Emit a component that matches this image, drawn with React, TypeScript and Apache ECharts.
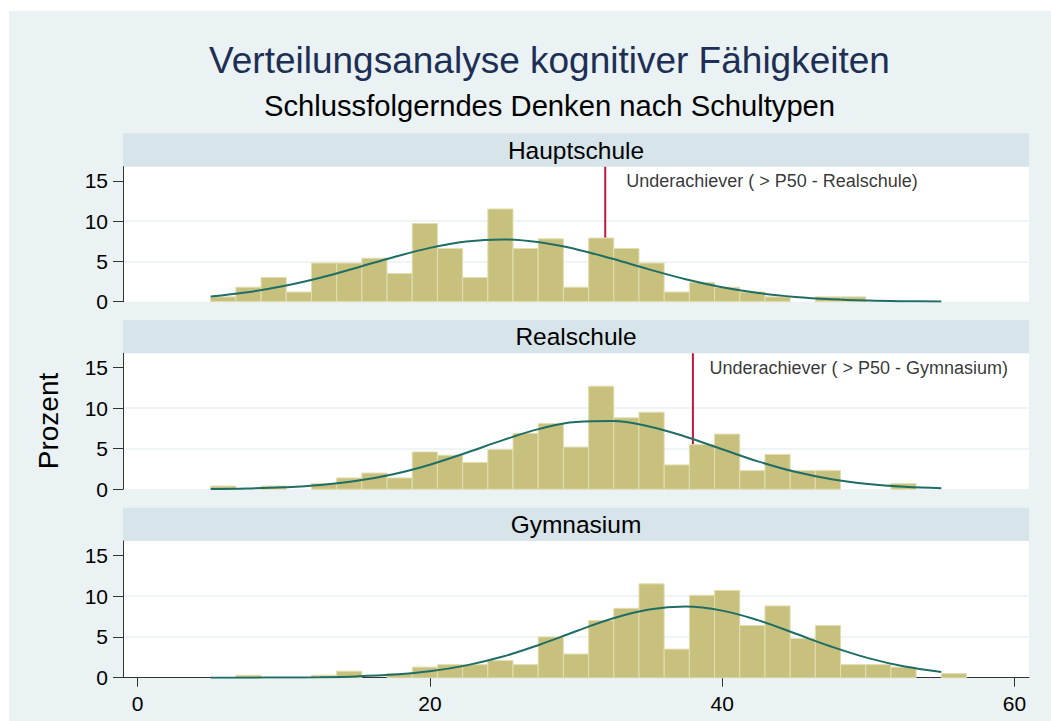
import React, { useEffect, useRef } from 'react';
import * as echarts from 'echarts';

const FONT = '"Liberation Sans", Arial, Helvetica, sans-serif';

// Histogram bins (common to all panels)
const BIN_START = 5;
const BIN_WIDTH = 50 / 29;

// Percent per bin
const HAUPT = [0.6, 1.8, 3.0, 1.2, 4.8, 4.8, 5.4, 3.5, 9.7, 6.6, 3.0, 11.5, 6.6, 7.8, 1.8, 7.9, 6.6, 4.8, 1.2, 2.4, 1.8, 1.2, 0.6, 0, 0.6, 0.6, 0, 0, 0, 0];
const REAL = [0.4, 0, 0.4, 0, 0.7, 1.4, 2.0, 1.4, 4.6, 4.2, 3.3, 4.9, 6.9, 8.1, 5.2, 12.7, 8.8, 9.5, 3.0, 5.5, 6.8, 2.3, 4.3, 2.3, 2.3, 0, 0, 0.7, 0, 0];
const GYM = [0, 0.3, 0, 0, 0.3, 0.8, 0, 0.5, 1.3, 1.6, 1.6, 2.1, 1.6, 5.0, 2.9, 7.0, 8.5, 11.5, 3.5, 10.1, 10.7, 6.4, 8.8, 4.8, 6.4, 1.6, 1.6, 1.3, 0, 0.5];

// Normal density overlay
const CURVE_X = [5, 7.5, 10, 12.5, 15, 17.5, 20, 22.5, 25, 27.5, 30, 32.5, 35, 37.5, 40, 42.5, 45, 47.5, 50, 52.5, 55];
const CURVE_HAUPT = [0.65, 1.17, 1.94, 2.97, 4.22, 5.52, 6.68, 7.47, 7.73, 7.38, 6.52, 5.32, 4.01, 2.79, 1.8, 1.07, 0.59, 0.3, 0.14, 0.06, 0.02];
const CURVE_REAL = [0.04, 0.1, 0.24, 0.52, 1.04, 1.86, 3.03, 4.5, 6.06, 7.44, 8.29, 8.4, 7.74, 6.48, 4.93, 3.41, 2.15, 1.23, 0.64, 0.3, 0.13];
const CURVE_GYM = [0.002, 0.007, 0.02, 0.06, 0.16, 0.38, 0.79, 1.51, 2.59, 4.04, 5.69, 7.25, 8.35, 8.72, 8.22, 7.02, 5.42, 3.79, 2.4, 1.37, 0.71];

const X_TICKS = [0, 20, 40, 60];
const Y_TICKS = [0, 5, 10, 15];
const X_MIN = -1;
const X_MAX = 61;
const Y_MAX = 16.75;

const PANELS = ['Hauptschule', 'Realschule', 'Gymnasium'];
const MARKER_X = [32, 38, null];
const MARKER_LABEL_X = [33.4, 39.1, null];
const MARKER_LABEL_Y = 15;
const MARKER_TEXT = ['Underachiever ( > P50 - Realschule)', 'Underachiever ( > P50 - Gymnasium)', null];

const TITLE = 'Verteilungsanalyse kognitiver Fähigkeiten';
const SUBTITLE = 'Schlussfolgerndes Denken nach Schultypen';
const Y_NAME = 'Prozent';

const BAR_FILL = '#C8C17D';
const BAR_EDGE = '#E2DEB2';
const CURVE_COLOR = '#1F6E65';
const MARK_COLOR = '#C4163E';
const GRID_COLOR = '#EAF2F3';
const AXIS_COLOR = '#333333';

const LAYOUT = [
  { stripTop: 133.3, top: 166.7, height: 135 },
  { stripTop: 320, top: 353.3, height: 136 },
  { stripTop: 507.7, top: 541, height: 136.7 },
];
const PLOT_LEFT = 123;
const PLOT_WIDTH = 906;

export default function App() {
  const ref = useRef<HTMLDivElement>(null);

  useEffect(() => {
    const chart = echarts.init(ref.current!, null, { renderer: 'svg' });
    const values = [HAUPT, REAL, GYM];
    const curves = [CURVE_HAUPT, CURVE_REAL, CURVE_GYM];

    const grids: any[] = [];
    const xAxes: any[] = [];
    const yAxes: any[] = [];
    const series: any[] = [];
    const graphics: any[] = [
      {
        type: 'rect',
        z: -100,
        shape: { x: 9, y: 11, width: 1042, height: 710 },
        style: { fill: '#EAF2F3' },
      },
      {
        type: 'text',
        x: 549.5,
        y: 60,
        style: { text: TITLE, fontSize: 37, fontFamily: FONT, fill: '#1E2F56', align: 'center', verticalAlign: 'middle' },
      },
      {
        type: 'text',
        x: 549.5,
        y: 106,
        style: { text: SUBTITLE, fontSize: 29.2, fontFamily: FONT, fill: '#000', align: 'center', verticalAlign: 'middle' },
      },
      {
        type: 'text',
        x: 48,
        y: 421,
        rotation: Math.PI / 2,
        style: { text: Y_NAME, fontSize: 28, fontFamily: FONT, fill: '#000', align: 'center', verticalAlign: 'middle' },
      },
    ];

    PANELS.forEach((name, i) => {
      const L = LAYOUT[i];
      grids.push({
        left: PLOT_LEFT,
        top: L.top,
        width: PLOT_WIDTH,
        height: L.height,
        show: true,
        backgroundColor: '#ffffff',
        borderWidth: 0,
      });
      graphics.push({
        type: 'rect',
        shape: { x: PLOT_LEFT, y: L.stripTop, width: PLOT_WIDTH, height: L.top - L.stripTop },
        style: { fill: '#D7E4E9' },
      });
      graphics.push({
        type: 'text',
        x: PLOT_LEFT + PLOT_WIDTH / 2,
        y: (L.stripTop + L.top) / 2,
        style: { text: name, fontSize: 24.5, fontFamily: FONT, fill: '#000', align: 'center', verticalAlign: 'middle' },
      });

      const isBottom = i === PANELS.length - 1;
      xAxes.push({
        type: 'value',
        gridIndex: i,
        min: X_MIN,
        max: X_MAX,
        show: isBottom,
        axisLine: { show: isBottom, onZero: false, lineStyle: { color: AXIS_COLOR, width: 1 } },
        axisTick: { show: isBottom, length: 9, customValues: X_TICKS, lineStyle: { color: AXIS_COLOR, width: 1 } },
        axisLabel: { show: isBottom, customValues: X_TICKS, fontSize: 21, margin: 15, color: '#000', fontFamily: FONT },
        splitLine: { show: false },
      });
      yAxes.push({
        type: 'value',
        gridIndex: i,
        min: 0,
        max: Y_MAX,
        interval: 5,
        axisLine: { show: true, onZero: false, lineStyle: { color: AXIS_COLOR, width: 1 } },
        axisTick: { show: true, length: 10, customValues: Y_TICKS, lineStyle: { color: AXIS_COLOR, width: 1 } },
        axisLabel: { customValues: Y_TICKS, fontSize: 21, margin: 15, color: '#000', fontFamily: FONT },
        splitLine: { show: true, showMinLine: false, showMaxLine: false, lineStyle: { color: GRID_COLOR, width: 1.5 } },
      });

      const bins = values[i]
        .map((v, k) => [BIN_START + k * BIN_WIDTH, BIN_START + (k + 1) * BIN_WIDTH, v])
        .filter((d) => d[2] > 0);

      series.push({
        type: 'custom',
        xAxisIndex: i,
        yAxisIndex: i,
        z: 2,
        encode: { x: [0, 1], y: 2 },
        data: bins,
        renderItem: (params: any, api: any) => {
          const p0 = api.coord([api.value(0), api.value(2)]);
          const p1 = api.coord([api.value(1), 0]);
          return {
            type: 'rect',
            shape: { x: p0[0], y: p0[1], width: p1[0] - p0[0], height: p1[1] - p0[1] },
            style: { fill: BAR_FILL, stroke: BAR_EDGE, lineWidth: 1 },
          };
        },
      });

      series.push({
        type: 'line',
        xAxisIndex: i,
        yAxisIndex: i,
        z: 3,
        smooth: 0.4,
        showSymbol: false,
        symbol: 'none',
        lineStyle: { color: CURVE_COLOR, width: 2 },
        data: CURVE_X.map((x, k) => [x, curves[i][k]]),
      });

      const mx = MARKER_X[i];
      if (mx !== null) {
        series.push({
          type: 'line',
          xAxisIndex: i,
          yAxisIndex: i,
          z: 1,
          showSymbol: false,
          symbol: 'none',
          lineStyle: { color: MARK_COLOR, width: 2 },
          data: [
            [mx, 0],
            [mx, Y_MAX],
          ],
        });
        series.push({
          type: 'scatter',
          xAxisIndex: i,
          yAxisIndex: i,
          z: 4,
          symbolSize: 1,
          itemStyle: { color: 'rgba(0,0,0,0)' },
          label: {
            show: true,
            position: 'right',
            distance: 0,
            formatter: MARKER_TEXT[i],
            fontSize: 18,
            fontFamily: FONT,
            color: '#000',
          },
          data: [[MARKER_LABEL_X[i], MARKER_LABEL_Y]],
        });
      }
    });

    chart.setOption({
      animation: false,
      backgroundColor: '#ffffff',
      grid: grids,
      xAxis: xAxes,
      yAxis: yAxes,
      series,
      graphic: graphics,
    });

    return () => chart.dispose();
  }, []);

  return <div ref={ref} style={{ position: 'fixed', left: 0, top: 0, width: 1051, height: 721 }} />;
}
